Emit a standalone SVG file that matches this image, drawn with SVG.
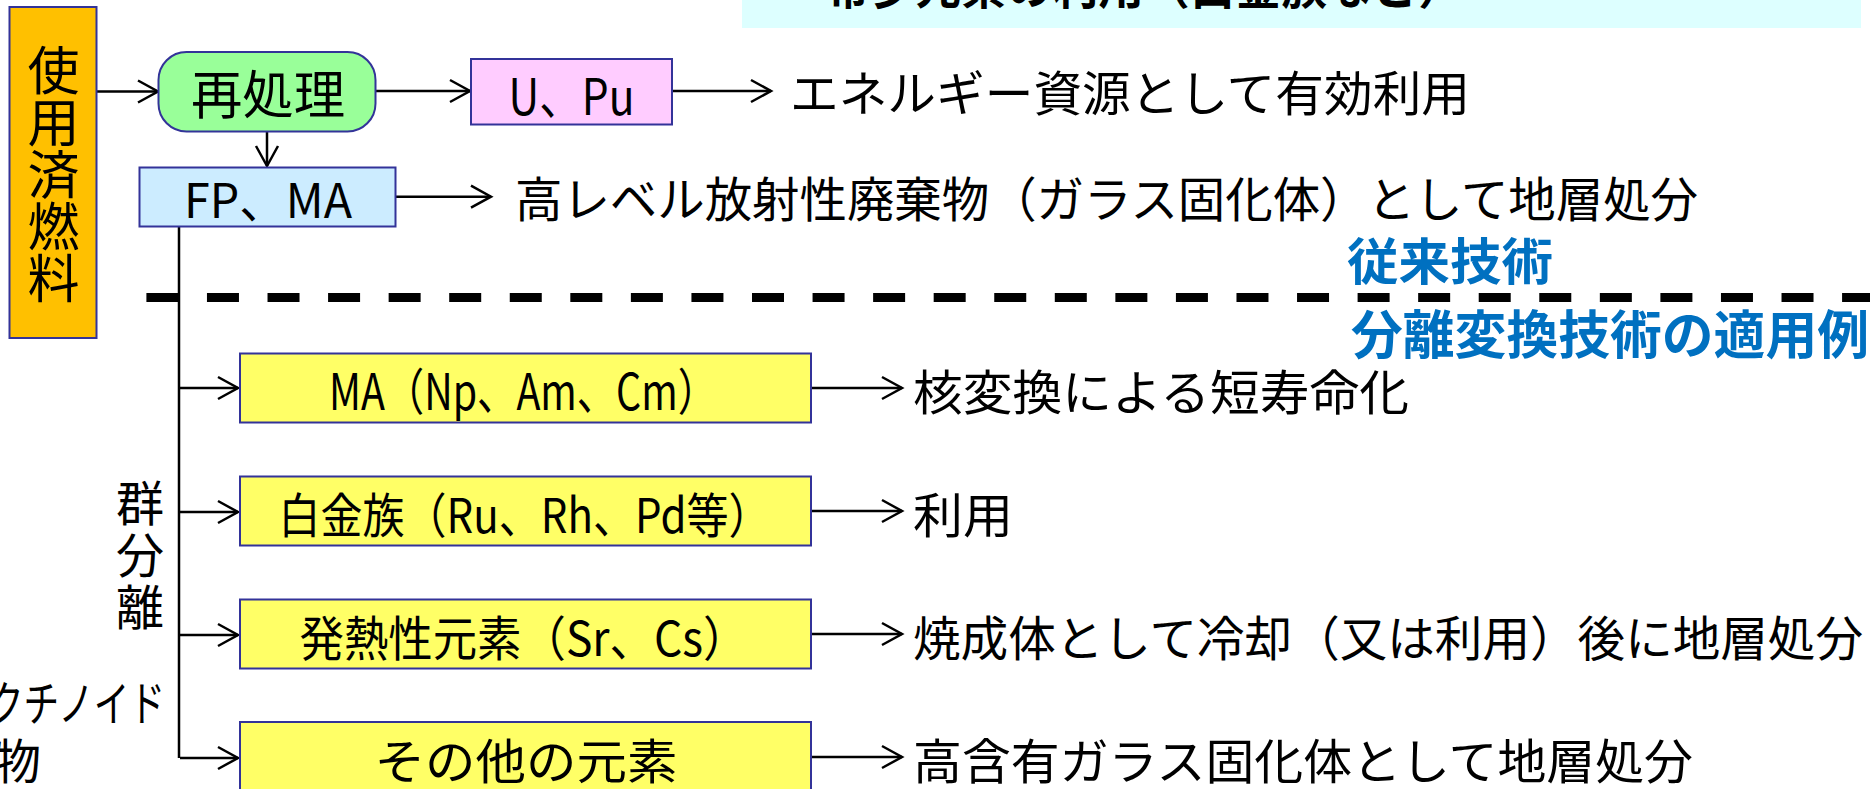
<svg xmlns="http://www.w3.org/2000/svg" width="1870" height="789" viewBox="0 0 1870 789">
<defs>
<marker id="ah" markerUnits="userSpaceOnUse" markerWidth="30" markerHeight="30" viewBox="-24 -15 30 30" refX="0" refY="0" orient="auto">
<path d="M-20,-11 L0,0 L-20,11" fill="none" stroke="#000" stroke-width="2.5"/>
</marker>
</defs>
<style>
text{font-family:"Noto Sans CJK JP","Noto Sans",sans-serif;fill:#000}
.t48{font-size:48px}
.t50{font-size:50px}
.t52{font-size:52px}
.vt{writing-mode:vertical-rl;text-anchor:middle}
.blue{fill:#0070C0;font-weight:bold}
.box{stroke:#333399;stroke-width:2}
.ln{stroke:#000;stroke-width:2.5;fill:none}
.ar{stroke:#000;stroke-width:2.5;fill:none;marker-end:url(#ah)}
</style>
<rect width="1870" height="789" fill="#fff"/>

<g id="top-note">
<rect x="742" y="-10" width="1119" height="38" fill="#DDFFFF"/>
<text class="t48" x="824" y="4" font-weight="bold" textLength="640" lengthAdjust="spacingAndGlyphs">希少元素の利用（白金族など）</text>
</g>

<g id="connectors">
<path class="ar" d="M96,91.5 H158"/>
<path class="ar" d="M376,91 H470"/>
<path class="ar" d="M672,91 H771"/>
<path class="ar" d="M267,131.5 V166"/>
<path class="ar" d="M396,196.7 H491"/>
<path class="ln" d="M179,226.7 V758"/>
<path class="ar" d="M180,388 H238"/>
<path class="ar" d="M180,512 H238"/>
<path class="ar" d="M180,635 H238"/>
<path class="ar" d="M180,758 H238"/>
<path class="ar" d="M811,388 H902"/>
<path class="ar" d="M811,511 H902"/>
<path class="ar" d="M811,634 H902"/>
<path class="ar" d="M811,757 H902"/>
<path d="M146.4,297.5 H1870" stroke="#000" stroke-width="9" stroke-dasharray="32 28.56" fill="none"/>
</g>

<g id="spent-fuel">
<rect class="box" x="9.5" y="7" width="87" height="331" fill="#FFC000"/>
<text class="t52 vt" x="53.5" y="174">使用済燃料</text>
</g>

<g id="reprocess">
<rect class="box" x="158.5" y="52" width="217" height="79.5" rx="28" ry="28" fill="#99FF99"/>
<text class="t52" x="268" y="114" text-anchor="middle" textLength="154" lengthAdjust="spacingAndGlyphs">再処理</text>
</g>

<g id="u-pu">
<rect class="box" x="471" y="59" width="201" height="65.5" fill="#FFCCFF"/>
<text class="t50" x="571.5" y="115" text-anchor="middle" textLength="126" lengthAdjust="spacingAndGlyphs">U、Pu</text>
</g>

<g id="fp-ma">
<rect class="box" x="139.5" y="167.5" width="256" height="59" fill="#CCECFF"/>
<text class="t48" x="268" y="218" text-anchor="middle" textLength="168" lengthAdjust="spacingAndGlyphs">FP、MA</text>
</g>

<g id="labels-top">
<text class="t48" x="790" y="111" textLength="680" lengthAdjust="spacingAndGlyphs">エネルギー資源として有効利用</text>
<text class="t48" x="515" y="217" textLength="1183" lengthAdjust="spacingAndGlyphs">高レベル放射性廃棄物（ガラス固化体）として地層処分</text>
<text class="t50 blue" x="1347" y="280" textLength="206" lengthAdjust="spacingAndGlyphs">従来技術</text>
<text class="t52 blue" x="1351" y="354" textLength="518" lengthAdjust="spacingAndGlyphs">分離変換技術の適用例</text>
</g>

<g id="group-sep">
<text class="t48 vt" x="140" y="557" letter-spacing="4">群分離</text>
<text class="t48" x="-12" y="721" textLength="177" lengthAdjust="spacingAndGlyphs">クチノイド</text>
<text class="t48" x="-7" y="779">物</text>
</g>

<g id="ma">
<rect class="box" x="240" y="353.5" width="571" height="69" fill="#FFFF66"/>
<text class="t50" x="523" y="410" text-anchor="middle" textLength="388" lengthAdjust="spacingAndGlyphs">MA（Np、Am、Cm）</text>
</g>
<g id="pgm">
<rect class="box" x="240" y="476.5" width="571" height="69" fill="#FFFF66"/>
<text class="t48" x="524.5" y="533" text-anchor="middle" textLength="492" lengthAdjust="spacingAndGlyphs">白金族（Ru、Rh、Pd等）</text>
</g>
<g id="heat">
<rect class="box" x="240" y="599.5" width="571" height="69" fill="#FFFF66"/>
<text class="t48" x="523.5" y="656" text-anchor="middle" textLength="448" lengthAdjust="spacingAndGlyphs">発熱性元素（Sr、Cs）</text>
</g>
<g id="other">
<rect class="box" x="240" y="722" width="571" height="80" fill="#FFFF66"/>
<text class="t48" x="526" y="779" text-anchor="middle" textLength="303" lengthAdjust="spacingAndGlyphs">その他の元素</text>
</g>

<g id="labels-bottom">
<text class="t48" x="913" y="410" textLength="496" lengthAdjust="spacingAndGlyphs">核変換による短寿命化</text>
<text class="t48" x="913" y="533" textLength="100" lengthAdjust="spacingAndGlyphs">利用</text>
<text class="t48" x="913" y="656" textLength="950" lengthAdjust="spacingAndGlyphs">焼成体として冷却（又は利用）後に地層処分</text>
<text class="t48" x="913" y="779" textLength="780" lengthAdjust="spacingAndGlyphs">高含有ガラス固化体として地層処分</text>
</g>
</svg>
